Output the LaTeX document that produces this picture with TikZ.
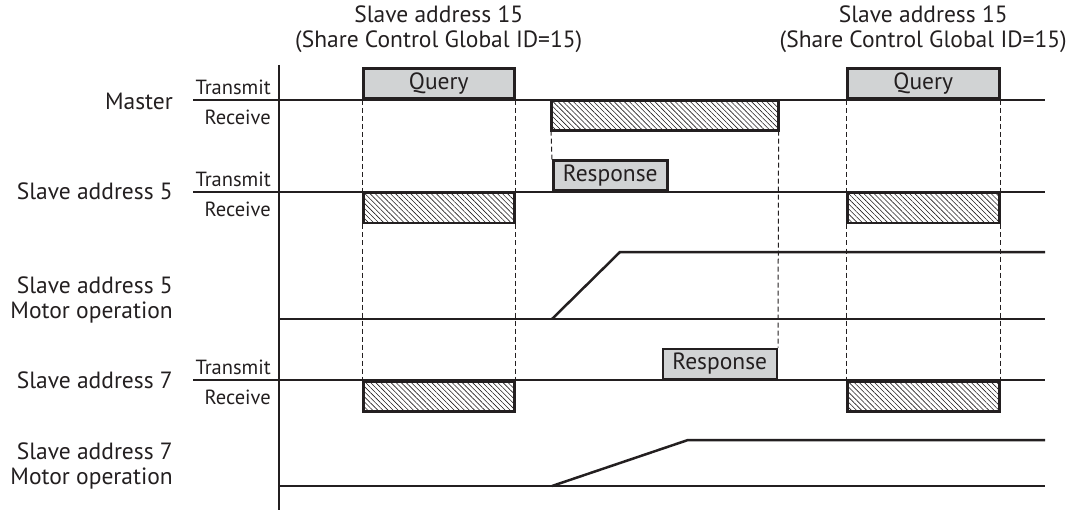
\documentclass[tikz,border=0pt]{standalone}
\usepackage{fontspec}
\setmainfont{PT Sans}
\usepackage{tikz}
\usetikzlibrary{positioning,patterns.meta}
\definecolor{sigdark}{HTML}{231F20}
\definecolor{boxgray}{HTML}{D1D3D4}
\tikzset{
  sig/.style={draw=sigdark, line width=2.5pt},
  guide/.style={draw=sigdark, line width=1pt, dash pattern=on 5pt off 3pt},
  txbox/.style={draw=sigdark, line width=2.5pt, fill=boxgray, inner sep=0pt, minimum height=30pt, font=\fontsize{23.5}{25}\selectfont, text=sigdark},
  rxbox/.style={draw=sigdark, line width=2.5pt, inner sep=0pt, minimum height=30pt, pattern={Lines[angle=-45,distance=3.6pt,line width=0.6pt]}, pattern color=sigdark},
  lbl/.style={anchor=east, align=right, inner sep=0pt, text=sigdark, font=\fontsize{23.5}{25}\selectfont},
  sublbl/.style={anchor=east, inner sep=0pt, text=sigdark, font=\fontsize{20.5}{22}\selectfont},
  toplbl/.style={align=center, inner sep=0pt, text=sigdark, font=\fontsize{23.5}{25}\selectfont}
}

\begin{document}
\begin{tikzpicture}[x=1pt,y=-1pt]
  \useasboundingbox (0,0) rectangle (1072,516);
  \draw[sig] (279,65) -- (279,510);
  \draw[sig] (193,100) -- (1045,100);
  \draw[sig] (193,192) -- (1045,192);
  \draw[sig] (193,380) -- (1045,380);
  \draw[sig] (279,319) -- (1045,319);
  \draw[sig] (552,319) -- (620,252) -- (1045,252);
  \draw[sig] (279,486) -- (1045,486);
  \draw[sig] (552,486) -- (688,440) -- (1045,440);
  \node[txbox, anchor=south west, minimum width=151pt] (mq1) at (362,100) {Query};
  \node[txbox, anchor=south west, minimum width=152pt] (mq2) at (846,100) {Query};
  \node[rxbox, anchor=north west, minimum width=227pt] (mrx) at (551,100) {};
  \node[txbox, anchor=south west, minimum width=114pt] (s5tx) at (552,192) {Response};
  \node[rxbox, anchor=north west, minimum width=151pt] (s5rx1) at (362,192) {};
  \node[rxbox, anchor=north west, minimum width=152pt] (s5rx2) at (846,192) {};
  \node[txbox, anchor=south east, minimum width=114pt] (s7tx) at (778,380) {Response};
  \node[rxbox, anchor=north west, minimum width=151pt] (s7rx1) at (362,380) {};
  \node[rxbox, anchor=north west, minimum width=152pt] (s7rx2) at (846,380) {};
  \draw[guide] (mq1.south west) -- (s5rx1.north west) (s5rx1.south west) -- (s7rx1.north west);
  \draw[guide] (mq1.south east) -- (s5rx1.north east) (s5rx1.south east) -- (s7rx1.north east);
  \draw[guide] (mq2.south west) -- (s5rx2.north west) (s5rx2.south west) -- (s7rx2.north west);
  \draw[guide] (mq2.south east) -- (s5rx2.north east) (s5rx2.south east) -- (s7rx2.north east);
  \draw[guide] (mrx.south west) -- (s5tx.north west);
  \draw[guide] (mrx.south east) -- (s7tx.north east);
  \node[toplbl, above=15pt of mq1] (top1) {Slave address 15\\(Share Control Global ID=15)};
  \node[toplbl, above=15pt of mq2] (top2) {Slave address 15\\(Share Control Global ID=15)};
  \node[lbl] (lmaster) at (173,101) {Master};
  \node[lbl] (ls5) at (173,191) {Slave address 5};
  \node[lbl] (ls5m) at (173,300) {Slave address 5\\Motor operation};
  \node[lbl] (ls7) at (173,380) {Slave address 7};
  \node[lbl] (ls7m) at (173,466) {Slave address 7\\Motor operation};
  \foreach \y/\n in {100/m,192/s5,380/s7}{
    \node[sublbl] (\n tx) at (271,\y-13) {Transmit};
    \node[sublbl] (\n rxl) at (271,\y+17) {Receive};
  }
\end{tikzpicture}
\end{document}
